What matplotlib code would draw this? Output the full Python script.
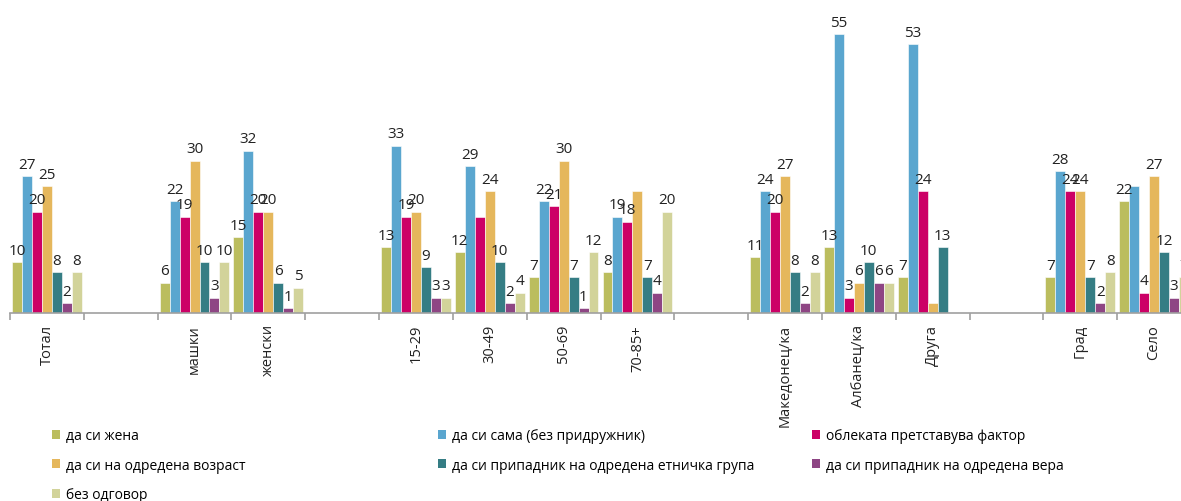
import numpy as np
import matplotlib
matplotlib.use('Agg')
import matplotlib.pyplot as plt
from matplotlib.patches import Patch

plt.rcParams['font.family'] = ['Open Sans', 'DejaVu Sans']

# categories ('' = empty slot between groups)
categories = ['Тотал', '', 'машки', 'женски', '', '15-29', '30-49', '50-69', '70-85+', '',
              'Македонец/ка', 'Албанец/ка', 'Друга', '', 'Град', 'Село']

series_names = ['да си жена', 'да си сама (без придружник)', 'облеката претставува фактор',
                'да си на одредена возраст', 'да си припадник на одредена етничка група',
                'да си припадник на одредена вера', 'без одговор']
colors = ['#BBBD5E', '#5AA6CF', '#CC0066', '#E5B75C', '#357D84', '#8E4584', '#D2D39A']

# values per category (None = empty slot), order as series_names
values = {
    'Тотал':        [10, 27, 20, 25, 8, 2, 8],
    'машки':        [6, 22, 19, 30, 10, 3, 10],
    'женски':       [15, 32, 20, 20, 6, 1, 5],
    '15-29':        [13, 33, 19, 20, 9, 3, 3],
    '30-49':        [12, 29, 19, 24, 10, 2, 4],
    '50-69':        [7, 22, 21, 30, 7, 1, 12],
    '70-85+':       [8, 19, 18, 24, 7, 4, 20],
    'Македонец/ка': [11, 24, 20, 27, 8, 2, 8],
    'Албанец/ка':   [13, 55, 3, 6, 10, 6, 6],
    'Друга':        [7, 53, 24, 2, 13, 0, 0],
    'Град':         [7, 28, 24, 24, 7, 2, 8],
    'Село':         [22, 25, 4, 27, 12, 3, 7],
}
# data labels that are not shown in the original chart
hidden_labels = {('30-49', 2), ('70-85+', 3), ('Друга', 3), ('Друга', 5), ('Друга', 6), ('Село', 1)}


def main():
    fig = plt.figure(figsize=(11.81, 5.02), dpi=100)
    ax = fig.add_axes([10 / 1181, 188 / 502, 1.0, 314 / 502])

    bw = 0.135
    x = np.arange(len(categories))
    for j, name in enumerate(series_names):
        xs, hs = [], []
        for i, cat in enumerate(categories):
            if cat in values:
                xs.append(x[i] + (j - 3) * bw)
                hs.append(values[cat][j])
        ax.bar(xs, hs, width=bw, color=colors[j], edgecolor='white', linewidth=0.4)

    for i, cat in enumerate(categories):
        if cat not in values:
            continue
        for j, v in enumerate(values[cat]):
            if (cat, j) in hidden_labels:
                continue
            ax.annotate(str(v), (x[i] + (j - 3) * bw, v), xytext=(0, 6), textcoords='offset points',
                        ha='center', va='baseline', fontsize=11, color='#222222')

    ax.set_xlim(-0.5, len(categories) - 0.5)
    ax.set_ylim(0, 61.9)
    ax.set_yticks([])
    for s in ['left', 'right', 'top']:
        ax.spines[s].set_visible(False)
    ax.spines['bottom'].set_color('#A0A0A0')
    ax.spines['bottom'].set_linewidth(1.2)

    ax.set_xticks(x)
    ax.set_xticklabels(categories, rotation=90, fontsize=10.5, color='#222222', va='top', ha='center')
    ax.tick_params(axis='x', which='major', length=0, pad=8)
    ax.set_xticks(np.arange(-0.5, len(categories), 1), minor=True)
    ax.tick_params(axis='x', which='minor', length=5, width=1.2, color='#A0A0A0')

    handles = [Patch(facecolor=c, edgecolor='none') for c in colors]
    columns = [[0, 3, 6], [1, 4], [2, 5]]
    col_x = [52 / 1181, 438 / 1181, 812 / 1181]
    for cx, idx in zip(col_x, columns):
        fig.legend([handles[k] for k in idx], [series_names[k] for k in idx],
                   loc='upper left', bbox_to_anchor=(cx, 1 - 429 / 502), frameon=False,
                   fontsize=10, handlelength=0.6, handleheight=0.6, handletextpad=0.4,
                   labelspacing=1.05, borderaxespad=0, borderpad=0)

    plt.savefig('out.png', dpi=100)


if __name__ == '__main__':
    main()
